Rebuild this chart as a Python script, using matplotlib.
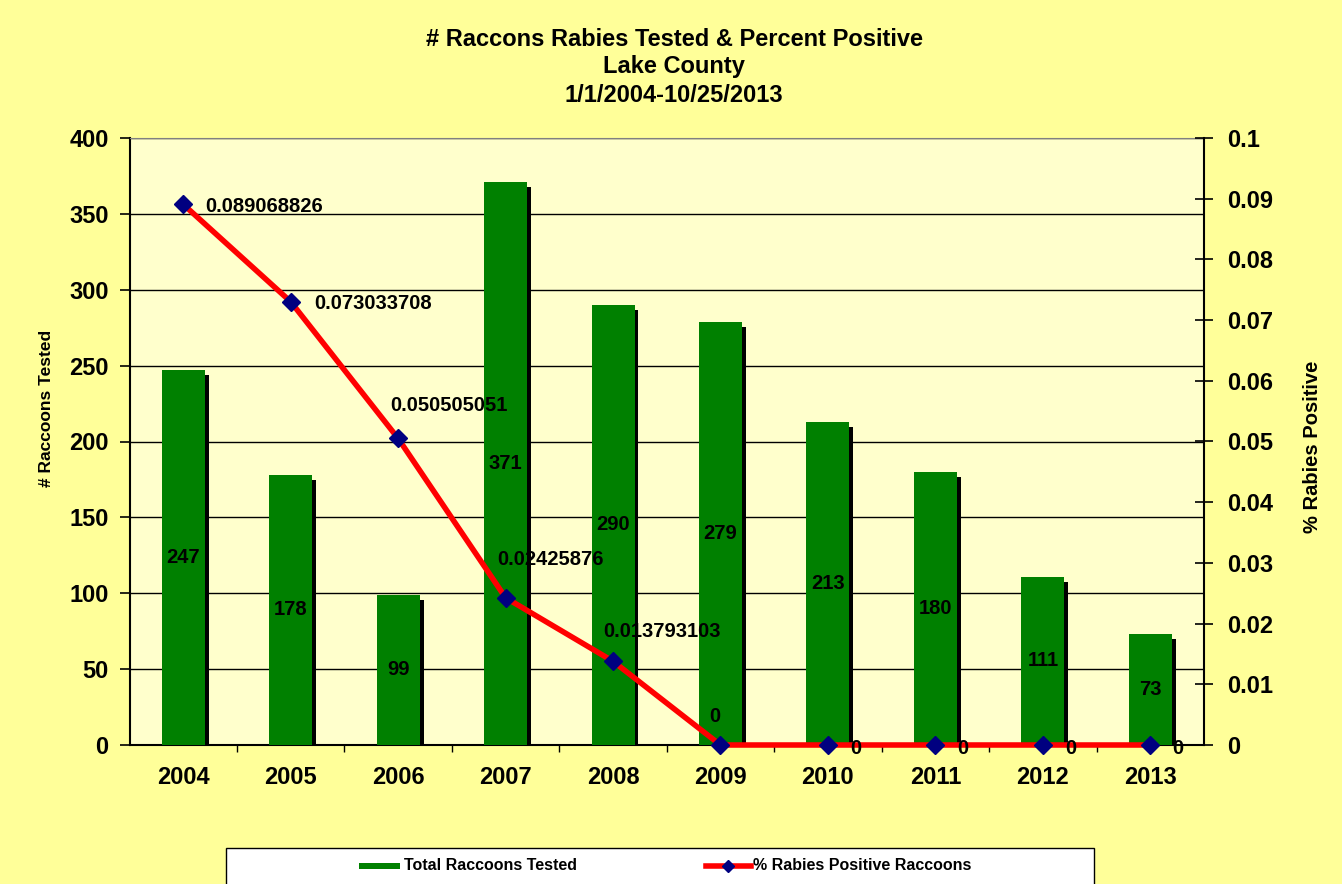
import matplotlib.pyplot as plt
from matplotlib.patches import Rectangle
from matplotlib.lines import Line2D
from matplotlib.ticker import MultipleLocator

plt.rcParams['font.family'] = ['Liberation Sans', 'DejaVu Sans']
plt.rcParams['font.weight'] = 'bold'

# 数据
years = ['2004', '2005', '2006', '2007', '2008', '2009', '2010', '2011', '2012', '2013']
tested = [247, 178, 99, 371, 290, 279, 213, 180, 111, 73]
pct_positive = [0.089068826, 0.073033708, 0.050505051, 0.02425876, 0.013793103,
                0, 0, 0, 0, 0]
# label offsets in pixels (Excel-like placement)
label_dx = [22, 24, -8, -8, -10, -11, 22, 22, 22, 22]
label_dy = [-2, -2, 33, 38, 30, 29, -3, -3, -3, -3]

fig_bg = '#FFFF99'
plot_bg = '#FFFFCC'
bar_color = '#008000'

W, H = 1342, 884
fig = plt.figure(figsize=(13.42, 8.84), dpi=100, facecolor=fig_bg)
ax = fig.add_axes([129.5 / W, 1 - 745 / H, 1074.5 / W, 607 / H])
ax.set_facecolor(plot_bg)

x = list(range(len(years)))
width = 0.4
# bar shadows
shadow_x = [i + 0.037 for i in x]
shadow_h = [v - 3.3 for v in tested]
ax.bar(shadow_x, shadow_h, width=width, color='black', zorder=2)
ax.bar(x, tested, width=width, color=bar_color, zorder=3)
for i, v in zip(x, tested):
    ax.text(i, v / 2, str(v), ha='center', va='center', fontsize=14.5,
            fontweight='bold', zorder=4)

ax.set_xlim(-0.5, len(years) - 0.5)
ax.set_ylim(0, 400)
ax.yaxis.set_major_locator(MultipleLocator(50))
ax.grid(axis='y', color='black', linewidth=1)
ax.set_axisbelow(True)
ax.set_xticks(x)
ax.set_xticklabels(years)
ax.set_xticks([i + 0.5 for i in x[:-1]], minor=True)
ax.tick_params(axis='x', which='major', length=0, pad=15, labelsize=17)
ax.tick_params(axis='x', which='minor', length=5, width=1, direction='out')
ax.tick_params(axis='y', length=7, width=1.2, direction='out', pad=8, labelsize=17)
for lab in ax.get_xticklabels() + ax.get_yticklabels():
    lab.set_fontweight('bold')
ax.spines['top'].set_color('#808080')
ax.spines['left'].set_linewidth(1.5)
ax.spines['bottom'].set_linewidth(1.5)
ax.spines['right'].set_visible(False)

ax2 = ax.twinx()
ax2.plot(x, pct_positive, color='red', linewidth=4, marker='D', markersize=9,
         markerfacecolor='#000080', markeredgecolor='#000080', zorder=5,
         clip_on=False)
ax2.set_ylim(0, 0.1)
ax2.yaxis.set_major_locator(MultipleLocator(0.01))
ax2.yaxis.set_major_formatter(plt.FuncFormatter(lambda v, p: f"{v:.2f}".rstrip('0').rstrip('.') if v else '0'))
ax2.tick_params(axis='y', length=13, width=1.2, direction='inout', pad=10, labelsize=17)
for lab in ax2.get_yticklabels():
    lab.set_fontweight('bold')
for side in ['top', 'left', 'bottom']:
    ax2.spines[side].set_visible(False)
ax2.spines['right'].set_linewidth(1.5)

for i, p in enumerate(pct_positive):
    txt = f"{p:.9f}".rstrip('0').rstrip('.')
    ax2.annotate(txt, (i, p), xytext=(label_dx[i], label_dy[i]),
                 textcoords='offset pixels', ha='left', va='center',
                 fontsize=14.5, fontweight='bold', annotation_clip=False, zorder=6)

# titles
title_lines = ['# Raccons Rabies Tested & Percent Positive', 'Lake County', '1/1/2004-10/25/2013']
for t, yy in zip(title_lines, [40, 67, 96]):
    fig.text(674 / W, 1 - yy / H, t, ha='center', va='center', fontsize=17,
             fontweight='bold')
fig.text(47 / W, 1 - 408 / H, '# Raccoons Tested', rotation=90,
         ha='center', va='center', fontsize=12.5, fontweight='bold')
fig.text(1312 / W, 1 - 447 / H, '% Rabies Positive', rotation=90,
         ha='center', va='center', fontsize=14.5, fontweight='bold')

# legend box
fig.patches.append(Rectangle((226 / W, -0.02), (1094 - 226) / W, (884 - 848) / H + 0.02,
                             transform=fig.transFigure, facecolor='white',
                             edgecolor='black', linewidth=1))
fig.patches.append(Rectangle((359 / W, 1 - 869 / H), 41 / W, 6 / H,
                             transform=fig.transFigure, facecolor=bar_color,
                             edgecolor='none'))
fig.lines.append(Line2D([706 / W, 751 / W], [1 - 866 / H, 1 - 866 / H],
                        transform=fig.transFigure, color='red', linewidth=4))
fig.lines.append(Line2D([728 / W], [1 - 866 / H], transform=fig.transFigure,
                        marker='D', markersize=6, color='#000080'))
fig.text(404 / W, 1 - 866 / H, 'Total Raccoons Tested', ha='left', va='center',
         fontsize=11.5, fontweight='bold')
fig.text(753 / W, 1 - 866 / H, '% Rabies Positive Raccoons', ha='left', va='center',
         fontsize=11.5, fontweight='bold')

fig.savefig('out.png', dpi=100, facecolor=fig_bg)
